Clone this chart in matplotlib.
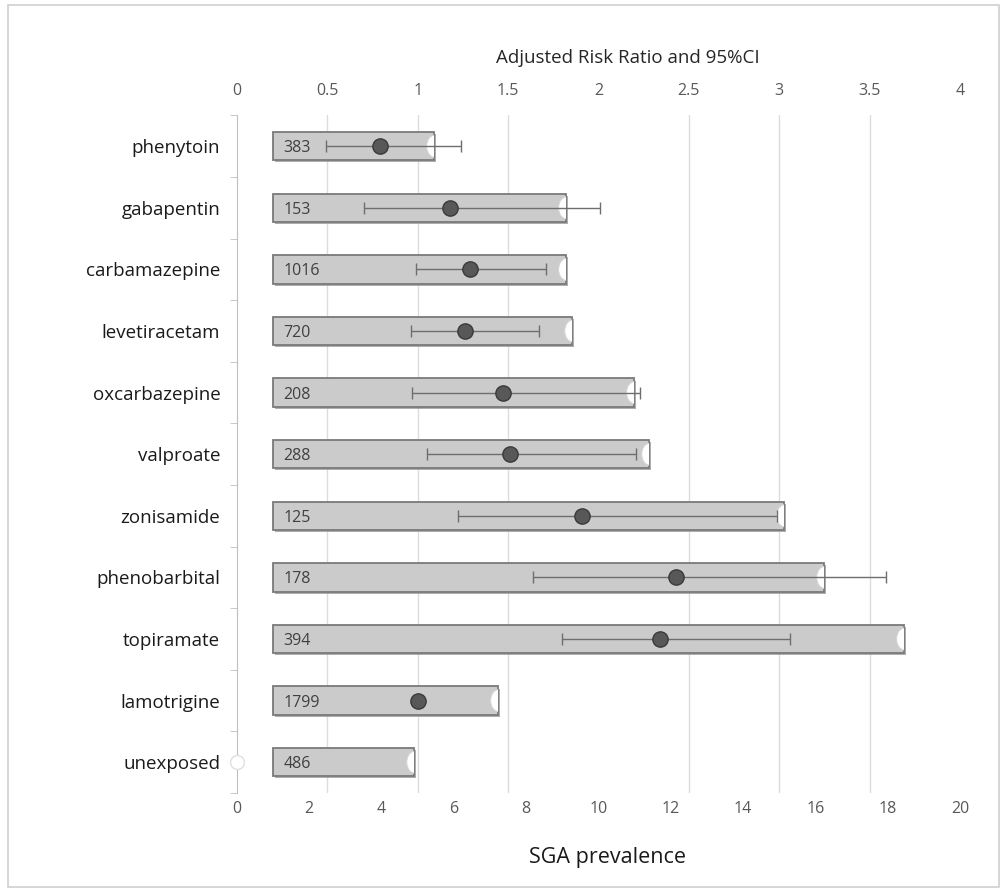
import numpy as np
import matplotlib
matplotlib.use("Agg")
import matplotlib.pyplot as plt
import matplotlib.patheffects as pe
from matplotlib.patches import Rectangle, Ellipse

# datos
farmacos = ["phenytoin", "gabapentin", "carbamazepine", "levetiracetam",
            "oxcarbazepine", "valproate", "zonisamide", "phenobarbital",
            "topiramate", "lamotrigine", "unexposed"]
n_expuestos = [383, 153, 1016, 720, 208, 288, 125, 178, 394, 1799, 486]
prevalencia_sga = [5.45, 9.1, 9.1, 9.27, 10.98, 11.4, 15.13, 16.24, 18.45, 7.22, 4.9]
rr_ajustado = [0.79, 1.18, 1.29, 1.26, 1.47, 1.51, 1.91, 2.43, 2.34, 1.0, 0.0]
ic_inferior = [0.49, 0.70, 0.99, 0.96, 0.97, 1.05, 1.22, 1.64, 1.80, 1.0, 0.0]
ic_superior = [1.24, 2.01, 1.71, 1.67, 2.23, 2.21, 2.99, 3.59, 3.06, 1.0, 0.0]

plt.rcParams['font.family'] = ['Open Sans', 'DejaVu Sans']

fig = plt.figure(figsize=(10, 8.88), dpi=100)
ax = fig.add_axes([0.237, 0.107, 0.723, 0.763])
ax2 = ax.twiny()

y = np.arange(len(farmacos))
inicio = 1.0  # las barras arrancan en 1

# lineas de grilla cada 0.5 del RR (= 2.5 de prevalencia), detras de las barras
ax.set_xticks(np.arange(2.5, 20.1, 2.5), minor=True)
ax.grid(axis="x", which="minor", color="#dcdcdc", linewidth=1, zorder=0)
ax.set_axisbelow(True)

# Barras de prevalencia (eje inferior)
barras = ax.barh(y, np.array(prevalencia_sga) - inicio, left=inicio, height=0.46,
                 color="#cbcbcb", edgecolor="#7a7a7a", linewidth=1.3, zorder=2)
for b in barras:
    b.set_path_effects([pe.SimplePatchShadow(offset=(1.5, -1.5), shadow_rgbFace="#9a9a9a", alpha=0.8),
                        pe.Normal()])
# muesca blanca al final de cada barra (recortada a la barra)
for b, yi, p in zip(barras, y, prevalencia_sga):
    m = Ellipse((p + 0.02, yi), 0.45, 0.36, facecolor="white",
                edgecolor="#d5d5d5", linewidth=0.8, zorder=3)
    ax.add_patch(m)
    m.set_clip_path(b)

for yi, n in zip(y, n_expuestos):
    ax.text(inicio + 0.28, yi, str(n), va="center_baseline", ha="left", fontsize=11.5,
            color="#404040", zorder=5)

# RR con IC (eje superior)
rr = np.array(rr_ajustado)
err = np.array([rr - np.array(ic_inferior), np.array(ic_superior) - rr])
ax2.errorbar(rr[:-1], y[:-1], xerr=err[:, :-1], fmt="o", color="#6e6e6e",
             ecolor="#6e6e6e", elinewidth=1, capsize=4, capthick=1,
             markersize=11, markerfacecolor="#585858", markeredgecolor="#3a3a3a",
             zorder=6)
ax2.plot(rr[-1:], y[-1:], "o", markersize=10, markerfacecolor="white",
         markeredgecolor="#e0e0e0", zorder=6, clip_on=False)

ax.set_xlim(0, 20)
ax2.set_xlim(0, 4)
ax.set_ylim(len(farmacos) - 0.5, -0.5)
ax2.set_ylim(len(farmacos) - 0.5, -0.5)

ax.set_xticks(np.arange(0, 21, 2))
ax2.set_xticks(np.arange(0, 4.01, 0.5))
ax2.set_xticklabels(["0", "0.5", "1", "1.5", "2", "2.5", "3", "3.5", "4"])

ax.set_yticks(y)
ax.set_yticklabels(farmacos, fontsize=13.5, color="#1a1a1a")
ax.set_yticks(np.arange(-0.5, len(farmacos), 1), minor=True)
ax.tick_params(axis="y", which="major", length=0, pad=12)
ax.tick_params(axis="y", which="minor", length=5, color="#bfbfbf", direction="out")
ax.tick_params(axis="x", which="both", length=0, labelsize=11.5, labelcolor="#595959", pad=6)
ax2.tick_params(axis="x", length=0, labelsize=11.5, labelcolor="#595959", pad=12)

for a in (ax, ax2):
    for s in ["top", "right", "bottom"]:
        a.spines[s].set_visible(False)
    a.spines["left"].set_color("#bfbfbf")
ax2.spines["left"].set_visible(False)

ax2.set_xlabel("Adjusted Risk Ratio and 95%CI", fontsize=13.5, color="#262626")
ax2.xaxis.set_label_coords(0.54, 1.077)
ax.set_xlabel("SGA prevalence", fontsize=15.5, color="#1a1a1a")
ax.xaxis.set_label_coords(0.512, -0.08)

# marco exterior
fig.patches.append(Rectangle((0.008, 0.001), 0.991, 0.993, transform=fig.transFigure,
                             fill=False, edgecolor="#d0d0d0", linewidth=1.2))

fig.savefig("out.png", dpi=100)
